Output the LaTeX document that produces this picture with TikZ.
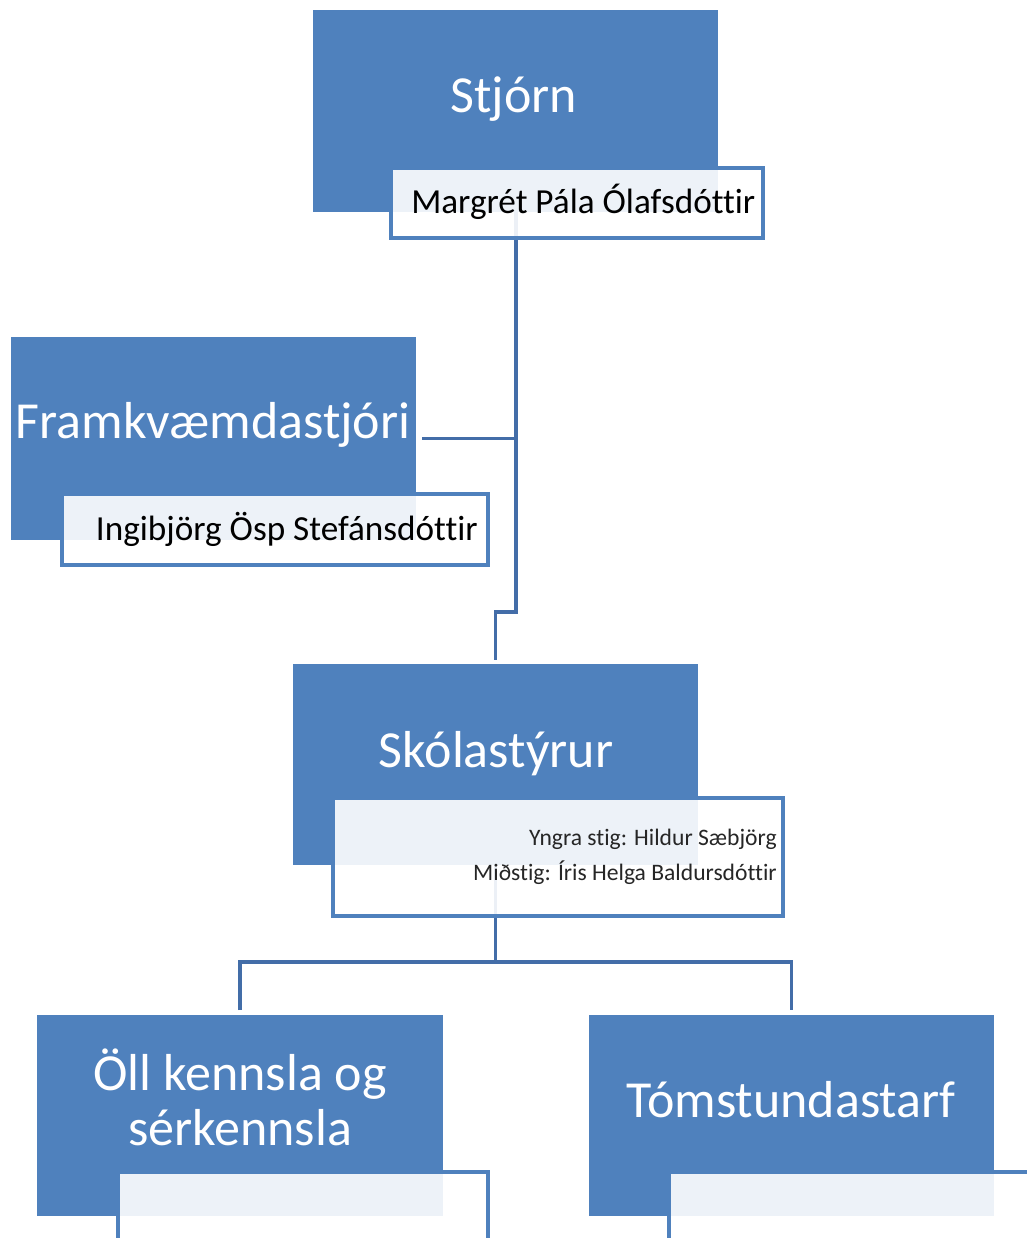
\documentclass[tikz,border=0pt]{standalone}
\usepackage{fontspec}
\setmainfont{Carlito}[Ligatures=NoCommon]
\definecolor{boxblue}{HTML}{4F81BD}
\definecolor{lineblue}{HTML}{436DA8}
\tikzset{
  x=0.75pt, y=-0.75pt,
  titlebox/.style={fill=boxblue, draw=none, inner sep=0pt, outer sep=0pt},
  subbox/.style={fill=white, fill opacity=0.9, draw=boxblue, line width=2.4pt, inner sep=0pt, outer sep=0pt},
  conn/.style={draw=lineblue, line width=2.7pt},
  titletext/.style={text=white, font=\fontsize{39}{41}\selectfont, inner sep=0pt, align=center},
  nametext/.style={text=black, font=\fontsize{26.4}{30}\selectfont, inner sep=0pt},
  smalltext/.style={text=black!85, font=\fontsize{17.7}{20}\selectfont, inner sep=0pt}
}
\begin{document}
\begin{tikzpicture}
\useasboundingbox (0,0) rectangle (1027,1238);
\clip (0,0) rectangle (1027,1238);
% title boxes
\node[titlebox, minimum width=303.75pt, minimum height=151.5pt] (stjorn) at (515.5,111) {};
\node[titlebox, minimum width=303.75pt, minimum height=152.25pt] (framk) at (213.5,438.5) {};
\node[titlebox, minimum width=303.75pt, minimum height=150.75pt] (skol) at (495.5,764.5) {};
\node[titlebox, minimum width=304.5pt, minimum height=150.75pt] (oll) at (240,1115.5) {};
\node[titlebox, minimum width=303.75pt, minimum height=150.75pt] (tom) at (791.5,1115.5) {};
% connectors
\coordinate (j1) at (516,612);
\coordinate (j2) at (495.5,962);
\draw[conn] (stjorn.south -| j1) -- (j1) -| ([yshift=3pt]skol.north);
\draw[conn] ([xshift=4.5pt]framk.east) -- (framk.east -| j1);
\draw[conn] (skol.south) -- (j2);
\draw[conn] ([yshift=3.75pt]oll.north) |- (j2) -| ([yshift=3.75pt]tom.north);
% sub boxes
\node[subbox, minimum width=279pt, minimum height=52.5pt] (stjsub) at (577,203) {};
\node[subbox, minimum width=319.5pt, minimum height=53.25pt] (framksub) at (275,529.5) {};
\node[subbox, minimum width=337.5pt, minimum height=88.5pt] (skolsub) at (558,857) {};
\node[subbox, minimum width=277.5pt, minimum height=96pt] (ollsub) at (303,1236) {};
\node[subbox, minimum width=293.25pt, minimum height=96pt] (tomsub) at (864.5,1236) {};
% texts
\node[titletext, anchor=base] (t1) at (514,113) {Stjórn};
\node[titletext, anchor=base] (t2) at (213,438) {Framkvæmdastjóri};
\node[titletext, anchor=base] (t3) at (496,767) {Skólastýrur};
\node[titletext, anchor=base] (t4a) at (240,1090) {Öll kennsla og};
\node[titletext, anchor=base] (t4b) at (240,1145) {sérkennsla};
\node[titletext, anchor=base] (t5) at (791,1117) {Tómstundastarf};
\node[nametext, anchor=base west] (n1) at (411,213) {Margrét Pála Ólafsdóttir};
\node[nametext, anchor=base east] (n2) at (478,540) {Ingibjörg Ösp Stefánsdóttir};
\node[smalltext, anchor=base east] (n3) at (777,845) {Yngra stig: Hildur Sæbjörg};
\node[smalltext, anchor=base east] (n4) at (777,880) {Miðstig: Íris Helga Baldursdóttir};
\end{tikzpicture}
\end{document}
